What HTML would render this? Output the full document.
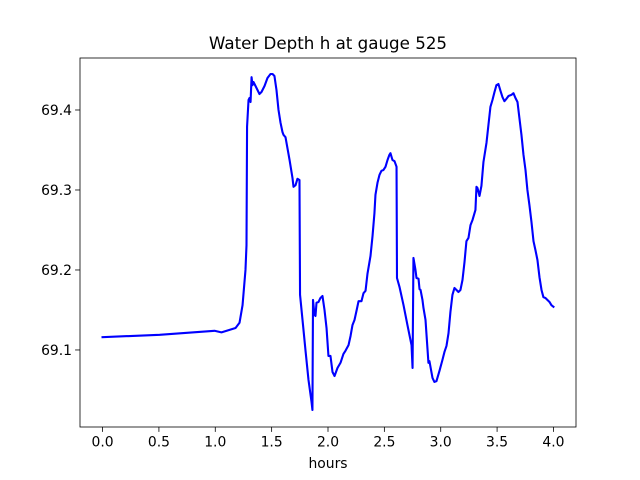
<!DOCTYPE html>
<html><head><meta charset="utf-8"><style>
html,body{margin:0;padding:0;background:#fff;}
svg{display:block;font-family:"DejaVu Sans","Liberation Sans",sans-serif;}
</style></head><body>
<svg id="chart" width="640" height="480" viewBox="0 0 640 480" xmlns="http://www.w3.org/2000/svg">
<rect x="0" y="0" width="640" height="480" fill="#fff"/>
<text x="328" y="49" text-anchor="middle" font-size="16.7" fill="#000">Water Depth h at gauge 525</text>
<text x="328" y="468" text-anchor="middle" font-size="13.9" fill="#000">hours</text>
<g id="plot"></g>
</svg>
<script>
const hours = [0,0.506,0.993,1.055,1.180,1.215,1.242,1.268,1.277,1.282,1.295,1.304,1.313,1.322,1.330,1.339,1.357,1.392,1.410,1.437,1.463,1.490,1.508,1.525,1.543,1.561,1.579,1.596,1.605,1.623,1.659,1.685,1.694,1.712,1.729,1.747,1.752,1.774,1.800,1.827,1.854,1.862,1.867,1.880,1.889,1.898,1.916,1.933,1.951,1.969,1.987,1.996,2.004,2.022,2.040,2.058,2.084,2.111,2.137,2.155,2.182,2.200,2.217,2.235,2.253,2.271,2.297,2.315,2.333,2.350,2.377,2.395,2.412,2.421,2.439,2.457,2.474,2.492,2.510,2.528,2.545,2.554,2.572,2.590,2.608,2.612,2.634,2.670,2.705,2.741,2.750,2.758,2.776,2.785,2.803,2.812,2.821,2.838,2.847,2.865,2.874,2.891,2.900,2.909,2.927,2.944,2.962,2.989,3.015,3.033,3.051,3.069,3.086,3.104,3.122,3.140,3.157,3.175,3.193,3.211,3.228,3.246,3.264,3.282,3.308,3.317,3.326,3.344,3.361,3.379,3.406,3.423,3.441,3.459,3.477,3.494,3.512,3.530,3.548,3.565,3.583,3.601,3.628,3.645,3.663,3.681,3.698,3.716,3.734,3.752,3.769,3.787,3.805,3.823,3.840,3.858,3.876,3.894,3.911,3.929,3.947,3.965,3.982,4.000];
const depth = [69.116,69.119,69.124,69.122,69.1275,69.134,69.156,69.2,69.231,69.379,69.4125,69.415,69.41,69.441,69.431,69.435,69.43,69.42,69.4225,69.43,69.44,69.445,69.445,69.4425,69.425,69.4,69.384,69.3725,69.369,69.366,69.3375,69.315,69.304,69.306,69.314,69.3125,69.169,69.1375,69.1,69.0625,69.035,69.025,69.1625,69.144,69.1425,69.159,69.16,69.165,69.1675,69.15,69.1275,69.109,69.0925,69.0925,69.0725,69.0675,69.0775,69.084,69.095,69.099,69.106,69.1175,69.131,69.1375,69.149,69.161,69.161,69.171,69.174,69.195,69.2175,69.2425,69.271,69.294,69.309,69.319,69.324,69.325,69.329,69.3375,69.344,69.346,69.3375,69.336,69.329,69.19,69.179,69.156,69.131,69.106,69.0775,69.215,69.2,69.19,69.189,69.176,69.175,69.1625,69.1525,69.1375,69.119,69.084,69.086,69.079,69.065,69.06,69.061,69.074,69.0875,69.0975,69.105,69.121,69.1475,69.169,69.1775,69.175,69.1725,69.175,69.1875,69.21,69.236,69.24,69.256,69.2625,69.275,69.304,69.3025,69.2925,69.305,69.335,69.359,69.381,69.404,69.4125,69.4225,69.431,69.4325,69.424,69.416,69.411,69.414,69.4175,69.419,69.421,69.415,69.41,69.39,69.369,69.344,69.325,69.3,69.281,69.26,69.236,69.225,69.2125,69.191,69.175,69.166,69.165,69.1625,69.16,69.156,69.154];
const xTicks = [0,0.5,1,1.5,2,2.5,3,3.5,4];
const xTickLabels = ["0.0","0.5","1.0","1.5","2.0","2.5","3.0","3.5","4.0"];
const yTicks = [69.1,69.2,69.3,69.4];
const yTickLabels = ["69.1","69.2","69.3","69.4"];

const L=80,R=576,T=58,B=427;
const xMin=-0.2,xMax=4.2,yMin=69.0037,yMax=69.4650;
const xs=v=>L+(v-xMin)/(xMax-xMin)*(R-L);
const ys=v=>B-(v-yMin)/(yMax-yMin)*(B-T);
const NS="http://www.w3.org/2000/svg";
const g=document.getElementById('plot');
function mk(tag,attrs){const e=document.createElementNS(NS,tag);for(const k in attrs)e.setAttribute(k,attrs[k]);g.appendChild(e);return e;}

let d='';
for(let i=0;i<hours.length;i++){d+=(i?'L':'M')+xs(hours[i]).toFixed(2)+' '+ys(depth[i]).toFixed(2);}
const line=mk('path',{d:d,fill:'none',stroke:'#0000ff','stroke-width':2.1,'stroke-linejoin':'round','stroke-linecap':'square'});



xTicks.forEach((t,i)=>{
  const x=xs(t);
  const tk=mk('line',{x1:x,x2:x,y1:B,y2:B+4.9,stroke:'#000','stroke-width':0.8});
  
  
  const lb=mk('text',{x:x,y:B+19.5,'text-anchor':'middle','font-size':13.9,fill:'#000'});
  lb.textContent=xTickLabels[i];
  
  
});
yTicks.forEach((t,i)=>{
  const y=ys(t);
  const tk=mk('line',{x1:L-4.9,x2:L,y1:y,y2:y,stroke:'#000','stroke-width':0.8});
  
  
  const lb=mk('text',{x:L-8,y:y+5,'text-anchor':'end','font-size':13.9,fill:'#000'});
  lb.textContent=yTickLabels[i];
  
  
});
const frame=mk('rect',{x:L,y:T,width:R-L,height:B-T,fill:'none',stroke:'#000','stroke-width':0.8});


</script>
</body></html>
